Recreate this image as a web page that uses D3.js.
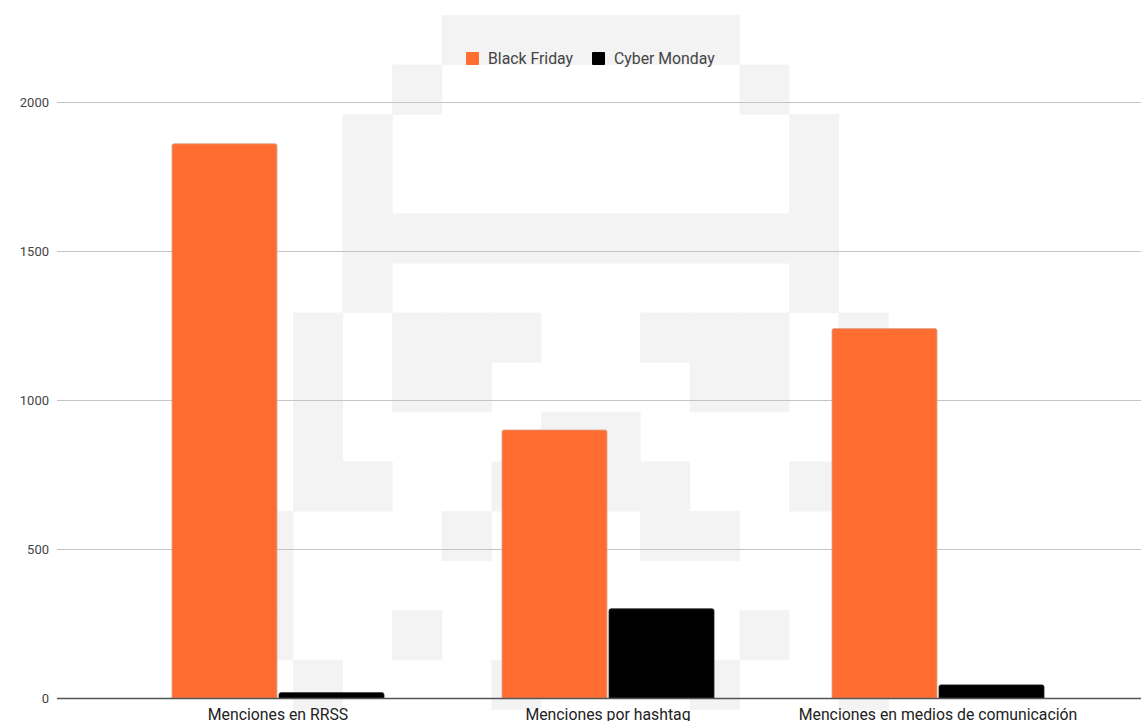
<!DOCTYPE html>
<html>
<head>
<meta charset="utf-8">
<script src="https://cdn.jsdelivr.net/npm/d3@7"></script>
<style>
  html, body { margin: 0; padding: 0; background: #fff; }
  svg { display: block; font-family: Roboto, "Noto Sans", sans-serif; }
</style>
</head>
<body>
<svg id="chart" width="1141" height="721"></svg>
<script>
// chart data
const categories = ["Menciones en RRSS", "Menciones por hashtag", "Menciones en medios de comunicación"]
const series = ["Black Friday", "Cyber Monday"]
const blackFriday = [1860, 900, 1240]
const cyberMonday = [19, 300, 45]
const yTicks = [0, 500, 1000, 1500, 2000]
const colors = ["#ff6d31", "#000000"]

// faint pixel-art watermark behind the plot, as [column, row] grid cells
const watermarkCells = [
  [3,0],[4,0],[5,0],[6,0],[7,0],[8,0],
  [2,1],[9,1],
  [1,2],[10,2],[1,3],[10,3],
  [1,4],[2,4],[3,4],[4,4],[5,4],[6,4],[7,4],[8,4],[9,4],[10,4],
  [1,5],[10,5],
  [0,6],[2,6],[3,6],[4,6],[7,6],[8,6],[9,6],[11,6],
  [0,7],[2,7],[3,7],[8,7],[9,7],
  [0,8],[5,8],[6,8],
  [0,9],[1,9],[4,9],[5,9],[6,9],[7,9],[10,9],
  [-1,10],[3,10],[7,10],[8,10],
  [-1,11],
  [-1,12],[2,12],[9,12],
  [0,13],[4,13],[8,13],[11,13]
]

const svg = d3.select("#chart")
const width = 1141
const margin = { top: 102, bottom: 698.3, left: 57 }

// watermark grid
const cell = 49.6
svg.append("g")
  .attr("class", "watermark")
  .selectAll("rect")
  .data(watermarkCells)
  .join("rect")
  .attr("x", d => 293 + d[0] * cell)
  .attr("y", d => 15 + d[1] * cell)
  .attr("width", cell + 0.5)
  .attr("height", cell + 0.5)
  .attr("fill", "#f3f3f3")

// scales
const y = d3.scaleLinear().domain([0, 2000]).range([margin.bottom, margin.top])
const x0 = d3.scaleBand().domain(categories).range([113, 1103]).padding(0)
const x1 = d3.scaleBand().domain(series).range([59, 271]).paddingInner(0.0187)

// gridlines
svg.append("g")
  .attr("class", "grid")
  .selectAll("line")
  .data(yTicks.filter(d => d > 0))
  .join("line")
  .attr("x1", margin.left)
  .attr("x2", width)
  .attr("y1", d => Math.round(y(d)) + 0.5)
  .attr("y2", d => Math.round(y(d)) + 0.5)
  .attr("stroke", "#c4c4c4")
  .attr("stroke-width", 1.2)

// y tick labels
svg.append("g")
  .attr("class", "y-labels")
  .selectAll("text")
  .data(yTicks)
  .join("text")
  .attr("x", 49)
  .attr("y", d => y(d))
  .attr("dy", "0.35em")
  .attr("text-anchor", "end")
  .attr("fill", "#444")
  .attr("font-size", 13)
  .text(d => d)

// bars
const rows = categories.map((c, i) => ({ category: c, values: [blackFriday[i], cyberMonday[i]] }))
const groups = svg.append("g")
  .attr("class", "bars")
  .selectAll("g")
  .data(rows)
  .join("g")
  .attr("transform", d => `translate(${x0(d.category)},0)`)

groups.selectAll("path")
  .data(d => d.values.map((v, j) => ({ series: series[j], value: v, color: colors[j] })))
  .join("path")
  .attr("d", d => {
    const bx = x1(d.series), bw = x1.bandwidth()
    const top = y(d.value), bottom = y(0), r = 2
    return `M${bx},${bottom}V${top + r}Q${bx},${top} ${bx + r},${top}H${bx + bw - r}Q${bx + bw},${top} ${bx + bw},${top + r}V${bottom}Z`
  })
  .attr("fill", d => d.color)
  .attr("stroke", d => d.color === "#000000" ? "#222" : "#d9a590")
  .attr("stroke-width", 0.8)

// baseline
svg.append("line")
  .attr("x1", margin.left)
  .attr("x2", width)
  .attr("y1", Math.round(y(0)) + 0.5)
  .attr("y2", Math.round(y(0)) + 0.5)
  .attr("stroke", "#555")
  .attr("stroke-width", 1.3)

// category labels (cut at the bottom edge, as in the original)
const xAxis = svg.append("g")
  .attr("class", "x-axis")
  .attr("transform", "translate(0,720)")
  .call(d3.axisBottom(x0).tickSize(0).tickPadding(0))
xAxis.select(".domain").remove()
xAxis.selectAll("text")
  .attr("dy", 0)
  .attr("font-size", 15.8)
  .attr("font-family", "Roboto, sans-serif")
  .attr("fill", "#222")

// legend
const legendX = [466, 592]
const legend = svg.append("g")
  .attr("class", "legend")
  .selectAll("g")
  .data(series)
  .join("g")
  .attr("transform", (d, i) => `translate(${legendX[i]},52)`)
legend.append("rect")
  .attr("width", 13)
  .attr("height", 13)
  .attr("rx", 1)
  .attr("fill", (d, i) => colors[i])
legend.append("text")
  .attr("x", 22)
  .attr("y", 6.5)
  .attr("dy", "0.35em")
  .attr("font-size", 15.8)
  .attr("fill", "#444")
  .text(d => d)
</script>
</body>
</html>
